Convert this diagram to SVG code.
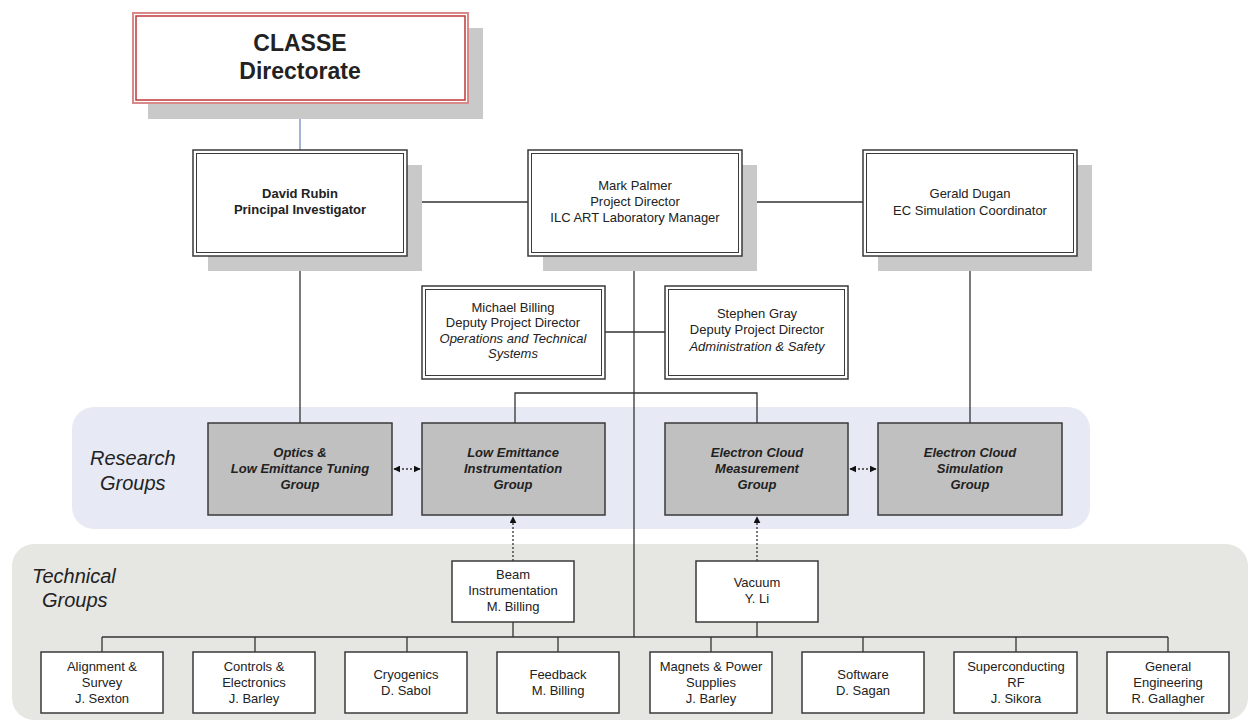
<svg xmlns="http://www.w3.org/2000/svg" width="1248" height="723" viewBox="0 0 1248 723">
<defs>
<style>
text{font-family:"Liberation Sans",Arial,sans-serif;fill:#222;text-anchor:middle}
.t12{font-size:13px}
.b{font-weight:bold}
.i{font-style:italic}
.shadow{fill:#c9c9c9}
.outer{fill:#fff;stroke:#3a3a3a;stroke-width:1.5}
.inner{fill:none;stroke:#3a3a3a;stroke-width:1}
.res{fill:#c0c0c0;stroke:#3a3a3a;stroke-width:1.5}
.tech{fill:#fff;stroke:#3a3a3a;stroke-width:1.5}
.ln{fill:none;stroke:#333;stroke-width:1.3}
.dot{fill:none;stroke:#333;stroke-width:1.3;stroke-dasharray:2 2}
.band{font-size:20px;font-style:italic;fill:#222;text-anchor:start}
</style>
<marker id="ah" viewBox="0 0 10 10" refX="9" refY="5" markerWidth="7" markerHeight="7" orient="auto-start-reverse" markerUnits="userSpaceOnUse">
<path d="M0,0 L10,5 L0,10 z" fill="#111"/>
</marker>
</defs>
<rect width="1248" height="723" fill="#fff"/>

<g id="bands">
<rect x="72" y="407" width="1018" height="122" rx="22" fill="#e7eaf5"/>
<rect x="12" y="544" width="1236" height="176" rx="22" fill="#e6e6e3"/>
<text class="band" x="90" y="465">Research</text>
<text class="band" x="100" y="490">Groups</text>
<text class="band" x="32" y="583">Technical</text>
<text class="band" x="42" y="607">Groups</text>
</g>

<g id="connectors">
<line class="ln" x1="300" y1="103" x2="300" y2="150" style="stroke:#6f8fc0"/>
<line class="ln" x1="407" y1="202" x2="528" y2="202"/>
<line class="ln" x1="742" y1="202" x2="863" y2="202"/>
<line class="ln" x1="300" y1="256" x2="300" y2="423"/>
<line class="ln" x1="970" y1="256" x2="970" y2="423"/>
<line class="ln" x1="634" y1="256" x2="634" y2="637"/>
<line class="ln" x1="605" y1="332" x2="665" y2="332"/>
<polyline class="ln" points="515,423 515,393 757,393 757,423"/>
<line class="dot" x1="394" y1="469" x2="420" y2="469" marker-start="url(#ah)" marker-end="url(#ah)"/>
<line class="dot" x1="850" y1="469" x2="876" y2="469" marker-start="url(#ah)" marker-end="url(#ah)"/>
<line class="dot" x1="513" y1="561" x2="513" y2="517" marker-end="url(#ah)"/>
<line class="dot" x1="757" y1="561" x2="757" y2="517" marker-end="url(#ah)"/>
<polyline class="ln" points="513,622 513,637"/>
<polyline class="ln" points="757,622 757,637"/>
<line class="ln" x1="102" y1="637" x2="1168" y2="637"/>
<line class="ln" x1="102" y1="637" x2="102" y2="652"/>
<line class="ln" x1="255" y1="637" x2="255" y2="652"/>
<line class="ln" x1="407" y1="637" x2="407" y2="652"/>
<line class="ln" x1="558" y1="637" x2="558" y2="652"/>
<line class="ln" x1="711" y1="637" x2="711" y2="652"/>
<line class="ln" x1="863" y1="637" x2="863" y2="652"/>
<line class="ln" x1="1016" y1="637" x2="1016" y2="652"/>
<line class="ln" x1="1168" y1="637" x2="1168" y2="652"/>
</g>

<g id="classe">
<rect class="shadow" x="148" y="28" width="335" height="91"/>
<rect x="133" y="13" width="335" height="90" fill="#fff" stroke="#d88a8a" stroke-width="2"/>
<rect x="136" y="16" width="329" height="84" fill="none" stroke="#c03838" stroke-width="1.5"/>
<text x="300" y="51" style="font-size:23px;font-weight:bold">CLASSE</text>
<text x="300" y="79" style="font-size:23px;font-weight:bold">Directorate</text>
</g>

<g id="rubin">
<rect class="shadow" x="208" y="165" width="214" height="106"/>
<rect class="outer" x="193" y="150" width="214" height="106"/>
<rect class="inner" x="196.5" y="153.5" width="207" height="99"/>
<text class="t12 b" x="300" y="198">David Rubin</text>
<text class="t12 b" x="300" y="214">Principal Investigator</text>
</g>

<g id="palmer">
<rect class="shadow" x="543" y="165" width="214" height="106"/>
<rect class="outer" x="528" y="150" width="214" height="106"/>
<rect class="inner" x="531.5" y="153.5" width="207" height="99"/>
<text class="t12" x="635" y="190">Mark Palmer</text>
<text class="t12" x="635" y="206">Project Director</text>
<text class="t12" x="635" y="222">ILC ART Laboratory Manager</text>
</g>

<g id="dugan">
<rect class="shadow" x="878" y="165" width="214" height="106"/>
<rect class="outer" x="863" y="150" width="214" height="106"/>
<rect class="inner" x="866.5" y="153.5" width="207" height="99"/>
<text class="t12" x="970" y="198">Gerald Dugan</text>
<text class="t12" x="970" y="215">EC Simulation Coordinator</text>
</g>

<g id="billing">
<rect class="outer" x="422" y="286" width="183" height="93"/>
<rect class="inner" x="425.5" y="289.5" width="176" height="86"/>
<text class="t12" x="513" y="312">Michael Billing</text>
<text class="t12" x="513" y="327">Deputy Project Director</text>
<text class="t12 i" x="513" y="343">Operations and Technical</text>
<text class="t12 i" x="513" y="358">Systems</text>
</g>

<g id="gray">
<rect class="outer" x="665" y="286" width="183" height="93"/>
<rect class="inner" x="668.5" y="289.5" width="176" height="86"/>
<text class="t12" x="757" y="318">Stephen Gray</text>
<text class="t12" x="757" y="334">Deputy Project Director</text>
<text class="t12 i" x="757" y="351">Administration &amp; Safety</text>
</g>

<g id="optics">
<rect class="res" x="208" y="423" width="184" height="92"/>
<text class="t12 b i" x="300" y="457">Optics &amp;</text>
<text class="t12 b i" x="300" y="473">Low Emittance Tuning</text>
<text class="t12 b i" x="300" y="489">Group</text>
</g>
<g id="lowemit">
<rect class="res" x="422" y="423" width="183" height="92"/>
<text class="t12 b i" x="513" y="457">Low Emittance</text>
<text class="t12 b i" x="513" y="473">Instrumentation</text>
<text class="t12 b i" x="513" y="489">Group</text>
</g>
<g id="ecmeas">
<rect class="res" x="665" y="423" width="183" height="92"/>
<text class="t12 b i" x="757" y="457">Electron Cloud</text>
<text class="t12 b i" x="757" y="473">Measurement</text>
<text class="t12 b i" x="757" y="489">Group</text>
</g>
<g id="ecsim">
<rect class="res" x="878" y="423" width="184" height="92"/>
<text class="t12 b i" x="970" y="457">Electron Cloud</text>
<text class="t12 b i" x="970" y="473">Simulation</text>
<text class="t12 b i" x="970" y="489">Group</text>
</g>

<g id="beaminst">
<rect class="tech" x="452" y="561" width="122" height="61"/>
<text class="t12" x="513" y="579">Beam</text>
<text class="t12" x="513" y="595">Instrumentation</text>
<text class="t12" x="513" y="611">M. Billing</text>
</g>
<g id="vacuum">
<rect class="tech" x="696" y="561" width="122" height="61"/>
<text class="t12" x="757" y="587">Vacuum</text>
<text class="t12" x="757" y="603">Y. Li</text>
</g>

<g id="alignment">
<rect class="tech" x="41" y="652" width="122" height="61"/>
<text class="t12" x="102" y="671">Alignment &amp;</text>
<text class="t12" x="102" y="687">Survey</text>
<text class="t12" x="102" y="703">J. Sexton</text>
</g>
<g id="controls">
<rect class="tech" x="193" y="652" width="122" height="61"/>
<text class="t12" x="254" y="671">Controls &amp;</text>
<text class="t12" x="254" y="687">Electronics</text>
<text class="t12" x="254" y="703">J. Barley</text>
</g>
<g id="cryogenics">
<rect class="tech" x="345" y="652" width="122" height="61"/>
<text class="t12" x="406" y="679">Cryogenics</text>
<text class="t12" x="406" y="695">D. Sabol</text>
</g>
<g id="feedback">
<rect class="tech" x="497" y="652" width="122" height="61"/>
<text class="t12" x="558" y="679">Feedback</text>
<text class="t12" x="558" y="695">M. Billing</text>
</g>
<g id="magnets">
<rect class="tech" x="650" y="652" width="122" height="61"/>
<text class="t12" x="711" y="671">Magnets &amp; Power</text>
<text class="t12" x="711" y="687">Supplies</text>
<text class="t12" x="711" y="703">J. Barley</text>
</g>
<g id="software">
<rect class="tech" x="802" y="652" width="122" height="61"/>
<text class="t12" x="863" y="679">Software</text>
<text class="t12" x="863" y="695">D. Sagan</text>
</g>
<g id="srf">
<rect class="tech" x="954" y="652" width="123" height="61"/>
<text class="t12" x="1016" y="671">Superconducting</text>
<text class="t12" x="1016" y="687">RF</text>
<text class="t12" x="1016" y="703">J. Sikora</text>
</g>
<g id="general">
<rect class="tech" x="1107" y="652" width="122" height="61"/>
<text class="t12" x="1168" y="671">General</text>
<text class="t12" x="1168" y="687">Engineering</text>
<text class="t12" x="1168" y="703">R. Gallagher</text>
</g>
</svg>
